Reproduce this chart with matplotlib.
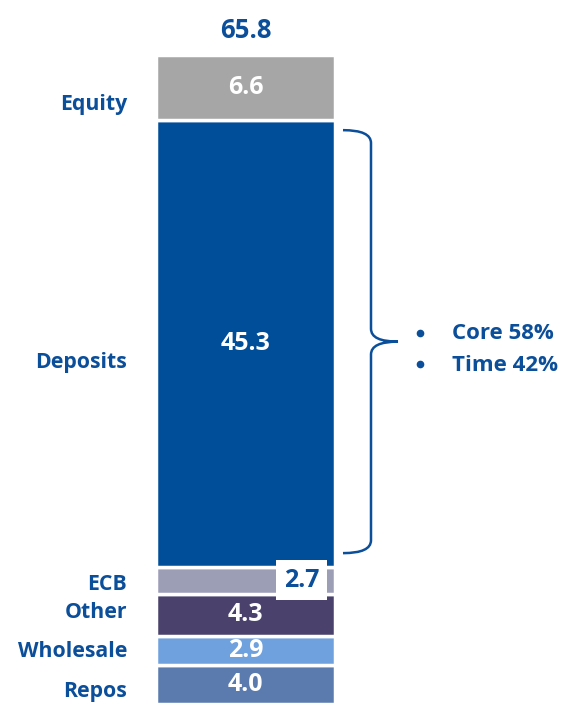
import matplotlib.pyplot as plt
from matplotlib.path import Path
from matplotlib.patches import PathPatch
import numpy as np

plt.rcParams['font.family'] = ['Open Sans', 'DejaVu Sans']

# funding mix, bottom to top
labels = ['Repos', 'Wholesale', 'Other', 'ECB', 'Deposits', 'Equity']
values = [4.0, 2.9, 4.3, 2.7, 45.3, 6.6]
total = 65.8
deposit_split = ['Core 58%', 'Time 42%']

colors = ['#5B7BAF', '#6FA1DF', '#4A416C', '#9C9EB6', '#004E9A', '#A6A6A6']
dark_blue = '#0B4E9A'
label_shift = [-0.7, -0.1, 0.2, -0.4, -1.9, -1.7]  # label nudges, data units

fig = plt.figure(figsize=(5.62, 7.04), dpi=100)
ax = fig.add_axes([0, 0, 1, 1])
ax.set_xlim(0, 562)
ax.set_ylim(0, 71.4)
ax.axis('off')

bx, bw = 245.5, 179
bottoms = np.concatenate([[0], np.cumsum(values)[:-1]])
ax.bar(bx, values, bottom=bottoms, width=bw, color=colors,
       edgecolor='white', linewidth=2.5)

for lab, v, b, s in zip(labels, values, bottoms, label_shift):
	mid = b + v / 2
	ax.text(127, mid + s, lab, ha='right', va='center', fontsize=15.3,
	        fontweight='bold', color=dark_blue)
	if lab == 'ECB':
		ax.text(301.5, mid, '%.1f' % v, ha='center', va='center',
		        fontsize=18, fontweight='bold', color=dark_blue,
		        bbox=dict(boxstyle='square,pad=0.3', fc='white', ec='none'))
	else:
		ax.text(bx, mid, '%.1f' % v, ha='center', va='center',
		        fontsize=18, fontweight='bold', color='white')

ax.text(bx, total + 2.5, '%.1f' % total, ha='center', va='center',
        fontsize=18.5, fontweight='bold', color=dark_blue)

# brace next to deposits
d_lo = bottoms[4] + 1.4
d_hi = bottoms[4] + values[4] - 1.0
d_mid = (d_lo + d_hi) / 2
x0, x1, x2 = 343, 371, 398
c = 1.3
verts = [(x0, d_hi), (x1, d_hi), (x1, d_hi - c),
         (x1, d_mid + c), (x1, d_mid), (x2, d_mid),
         (x1, d_mid), (x1, d_mid - c),
         (x1, d_lo + c), (x1, d_lo), (x0, d_lo)]
codes = [Path.MOVETO, Path.CURVE3, Path.CURVE3,
         Path.LINETO, Path.CURVE3, Path.CURVE3,
         Path.CURVE3, Path.CURVE3,
         Path.LINETO, Path.CURVE3, Path.CURVE3]
ax.add_patch(PathPatch(Path(verts, codes), fc='none', ec=dark_blue, lw=1.8))

for i, t in enumerate(deposit_split):
	y = d_mid + 0.8 - 3.2 * i
	ax.plot(420, y + 0.1, 'o', ms=4.5, color=dark_blue)
	ax.text(452, y, t, ha='left', va='center', fontsize=16,
	        fontweight='bold', color=dark_blue)

fig.savefig('out.png', dpi=100)
